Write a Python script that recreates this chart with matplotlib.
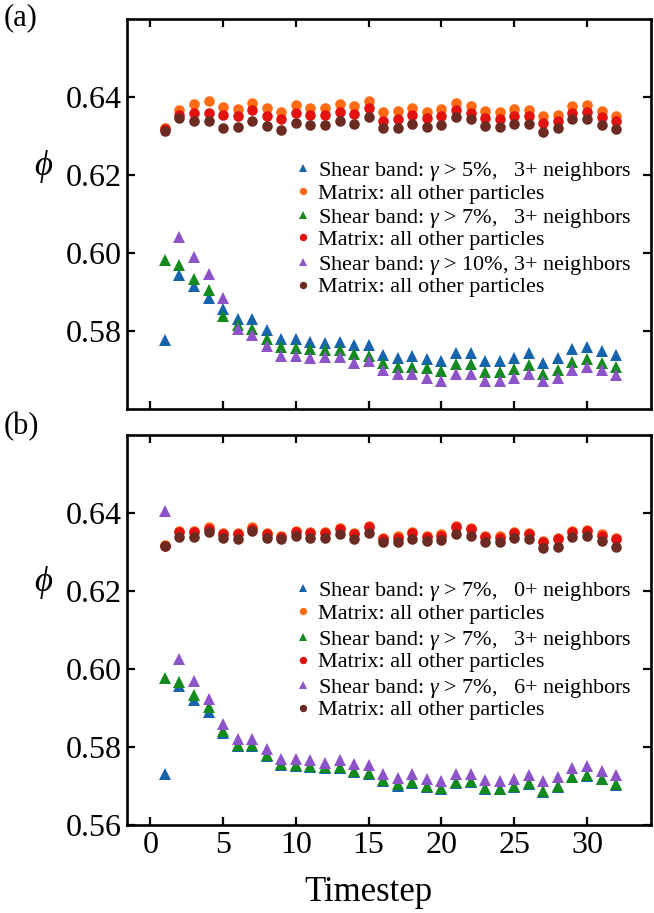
import numpy as np
import matplotlib.pyplot as plt
from matplotlib.ticker import FormatStrFormatter

plt.rcParams['font.family'] = ['Liberation Serif', 'DejaVu Serif']
plt.rcParams['mathtext.fontset'] = 'custom'
plt.rcParams['mathtext.rm'] = 'Liberation Serif'
plt.rcParams['mathtext.it'] = 'Liberation Serif:italic'

# ---------------- data ----------------
timestep = np.arange(1, 33)

# panel (a)
a_blue = [0.5777, 0.5944, 0.5915, 0.5884, 0.5856, 0.5831, 0.5831, 0.5803, 0.5779, 0.5780, 0.5773, 0.5768,
          0.5773, 0.5764, 0.5763, 0.5738, 0.5732, 0.5735, 0.5727, 0.5724, 0.5743, 0.5743, 0.5724, 0.5724,
          0.5732, 0.5743, 0.5719, 0.5730, 0.5753, 0.5758, 0.5749, 0.5738]
a_orange = [0.6321, 0.6367, 0.6381, 0.6390, 0.6375, 0.6369, 0.6385, 0.6372, 0.6362, 0.6379, 0.6372, 0.6372,
            0.6383, 0.6376, 0.6391, 0.6362, 0.6364, 0.6372, 0.6362, 0.6368, 0.6385, 0.6376, 0.6364, 0.6362,
            0.6368, 0.6367, 0.6350, 0.6354, 0.6376, 0.6379, 0.6364, 0.6351]
a_green = [0.5982, 0.5969, 0.5933, 0.5905, 0.5838, 0.5815, 0.5805, 0.5780, 0.5760, 0.5756, 0.5753, 0.5751,
           0.5752, 0.5740, 0.5737, 0.5717, 0.5707, 0.5708, 0.5704, 0.5698, 0.5715, 0.5715, 0.5696, 0.5696,
           0.5702, 0.5713, 0.5690, 0.5700, 0.5721, 0.5727, 0.5719, 0.5708]
a_red = [0.6318, 0.6355, 0.6358, 0.6360, 0.6354, 0.6350, 0.6367, 0.6352, 0.6343, 0.6358, 0.6354, 0.6354,
         0.6362, 0.6356, 0.6371, 0.6339, 0.6343, 0.6354, 0.6345, 0.6352, 0.6367, 0.6360, 0.6345, 0.6343,
         0.6352, 0.6350, 0.6333, 0.6339, 0.6360, 0.6362, 0.6348, 0.6339]
a_purple = [np.nan, 0.6040, 0.5989, 0.5946, 0.5884, 0.5804, 0.5790, 0.5762, 0.5736, 0.5736, 0.5730, 0.5733,
            0.5733, 0.5719, 0.5723, 0.5700, 0.5690, 0.5691, 0.5680, 0.5673, 0.5690, 0.5691, 0.5673, 0.5673,
            0.5679, 0.5690, 0.5673, 0.5679, 0.5701, 0.5708, 0.5701, 0.5687]
a_brown = [0.6314, 0.6345, 0.6339, 0.6339, 0.6320, 0.6322, 0.6339, 0.6326, 0.6315, 0.6334, 0.6328, 0.6328,
           0.6339, 0.6331, 0.6348, 0.6320, 0.6320, 0.6331, 0.6322, 0.6328, 0.6348, 0.6343, 0.6326, 0.6322,
           0.6331, 0.6331, 0.6309, 0.6320, 0.6343, 0.6343, 0.6328, 0.6317]

# panel (b)
b_blue = [0.5730, 0.5956, 0.5920, 0.5890, 0.5837, 0.5802, 0.5802, 0.5777, 0.5753, 0.5751, 0.5748, 0.5746,
          0.5746, 0.5736, 0.5732, 0.5713, 0.5701, 0.5708, 0.5698, 0.5693, 0.5708, 0.5710, 0.5693, 0.5691,
          0.5698, 0.5705, 0.5684, 0.5698, 0.5722, 0.5725, 0.5717, 0.5702]
b_orange = [0.6317, 0.6353, 0.6354, 0.6363, 0.6349, 0.6348, 0.6363, 0.6348, 0.6341, 0.6354, 0.6351, 0.6351,
            0.6362, 0.6349, 0.6367, 0.6337, 0.6340, 0.6351, 0.6341, 0.6345, 0.6366, 0.6362, 0.6341, 0.6340,
            0.6351, 0.6349, 0.6329, 0.6337, 0.6355, 0.6357, 0.6345, 0.6335]
b_green = [0.5978, 0.5966, 0.5933, 0.5902, 0.5840, 0.5805, 0.5805, 0.5780, 0.5756, 0.5753, 0.5750, 0.5748,
           0.5748, 0.5738, 0.5734, 0.5715, 0.5704, 0.5710, 0.5700, 0.5695, 0.5710, 0.5712, 0.5695, 0.5693,
           0.5700, 0.5708, 0.5687, 0.5700, 0.5724, 0.5727, 0.5719, 0.5704]
b_red = [0.6315, 0.6350, 0.6350, 0.6359, 0.6346, 0.6345, 0.6359, 0.6345, 0.6338, 0.6350, 0.6348, 0.6348,
         0.6359, 0.6346, 0.6363, 0.6334, 0.6337, 0.6348, 0.6338, 0.6342, 0.6363, 0.6359, 0.6338, 0.6337,
         0.6348, 0.6346, 0.6326, 0.6334, 0.6352, 0.6354, 0.6342, 0.6332]
b_purple = [0.6405, 0.6025, 0.5970, 0.5924, 0.5859, 0.5820, 0.5821, 0.5795, 0.5769, 0.5768, 0.5766, 0.5760,
            0.5766, 0.5756, 0.5753, 0.5732, 0.5721, 0.5730, 0.5719, 0.5712, 0.5730, 0.5730, 0.5715, 0.5712,
            0.5719, 0.5727, 0.5712, 0.5724, 0.5747, 0.5751, 0.5738, 0.5727]
b_brown = [0.6315, 0.6338, 0.6339, 0.6350, 0.6337, 0.6334, 0.6353, 0.6337, 0.6333, 0.6340, 0.6337, 0.6337,
           0.6346, 0.6334, 0.6348, 0.6326, 0.6326, 0.6334, 0.6329, 0.6330, 0.6346, 0.6342, 0.6326, 0.6326,
           0.6337, 0.6334, 0.6310, 0.6312, 0.6338, 0.6340, 0.6329, 0.6312]

a_labels = [r'Shear band: $\gamma$ > 5%,   3+ neighbors', 'Matrix: all other particles',
            r'Shear band: $\gamma$ > 7%,   3+ neighbors', 'Matrix: all other particles',
            r'Shear band: $\gamma$ > 10%, 3+ neighbors', 'Matrix: all other particles']
b_labels = [r'Shear band: $\gamma$ > 7%,   0+ neighbors', 'Matrix: all other particles',
            r'Shear band: $\gamma$ > 7%,   3+ neighbors', 'Matrix: all other particles',
            r'Shear band: $\gamma$ > 7%,   6+ neighbors', 'Matrix: all other particles']

colors = ['#1663ae', '#ff6b14', '#128a1d', '#e1120f', '#8c54c8', '#6c2b22']
markers = ['^', 'o', '^', 'o', '^', 'o']


def draw_panel(ax, series, labels, legend_tops, yticks):
    handles = []
    for y, lab, c, m in zip(series, labels, colors, markers):
        ms = 8.5 if m == '^' else 7.6
        h, = ax.plot(timestep, y, linestyle='none', marker=m, ms=ms, color=c, mew=0, label=lab)
        handles.append(h)
    ax.set_xlim(-1.6, 34.4)
    ax.set_ylim(0.56, 0.66)
    ax.set_xticks([0, 5, 10, 15, 20, 25, 30])
    ax.set_yticks(yticks)
    ax.yaxis.set_major_formatter(FormatStrFormatter('%.2f'))
    ax.tick_params(direction='in', length=6, width=1.6, top=True, right=True,
                   labelsize=23, pad=4)
    for s in ax.spines.values():
        s.set_linewidth(1.9)
    ax.set_ylabel(r'$\phi$', rotation=0, fontsize=25)
    ax.yaxis.set_label_coords(-0.16, 0.575)
    # legend entries come in pairs (shear band + matrix)
    for k, top in enumerate(legend_tops):
        leg = ax.legend(handles=handles[2 * k:2 * k + 2], loc='upper left',
                        bbox_to_anchor=(0.324, top), frameon=False,
                        fontsize=16, handlelength=0.55, handletextpad=0.4, labelspacing=0.0,
                        borderpad=0, borderaxespad=0, markerscale=0.7)
        if k < len(legend_tops) - 1:
            ax.add_artist(leg)


fig = plt.figure(figsize=(6.54, 9.13), dpi=100)
ax1 = fig.add_axes([0.1942, 0.552, 0.8012, 0.4272])
ax2 = fig.add_axes([0.1942, 0.0964, 0.8012, 0.4272])

draw_panel(ax1, [a_blue, a_orange, a_green, a_red, a_purple, a_brown], a_labels,
           [0.638, 0.519, 0.398], [0.58, 0.60, 0.62, 0.64])
draw_panel(ax2, [b_blue, b_orange, b_green, b_red, b_purple, b_brown], b_labels,
           [0.628, 0.503, 0.380], [0.56, 0.58, 0.60, 0.62, 0.64])

ax1.tick_params(labelbottom=False)
ax2.set_xlabel('Timestep', fontsize=25)
ax2.xaxis.set_label_coords(0.46, -0.13)

fig.text(0.005, 0.997, '(a)', fontsize=22, va='top', ha='left')
fig.text(0.005, 0.549, '(b)', fontsize=22, va='top', ha='left')

fig.savefig('out.png', dpi=100)
